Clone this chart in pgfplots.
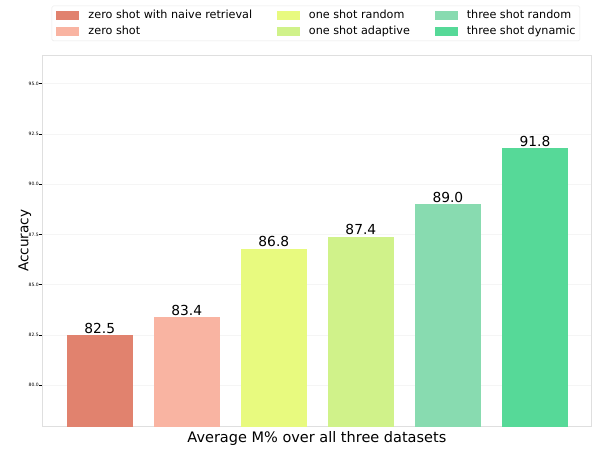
\documentclass[border=0pt]{standalone}
\usepackage{pgfplots}
\pgfplotsset{compat=1.18}
\usepackage{fontspec}
\setmainfont{DejaVu Sans}
\definecolor{cA}{HTML}{E1826E}
\definecolor{cB}{HTML}{F9B4A2}
\definecolor{cC}{HTML}{E8FA7F}
\definecolor{cD}{HTML}{D0F28A}
\definecolor{cE}{HTML}{88DBB0}
\definecolor{cF}{HTML}{56D998}
\pgfplotsset{
  sqleg/.style={legend image code/.code={\fill[##1, sharp corners] (0pt,-4.5pt) rectangle (23pt,4.5pt);}},
}
\begin{document}
\begin{tikzpicture}
\useasboundingbox (0,0) rectangle (592pt,450pt);
\begin{axis}[
  at={(42.3pt,23.3pt)}, anchor=south west,
  scale only axis, width=549.2pt, height=371.7pt,
  xmin=-0.66, xmax=5.65, ymin=77.94, ymax=96.43,
  ybar, bar width=0.76, bar shift=0pt,
  xtick=\empty,
  ytick={80,82.5,85,87.5,90,92.5,95},
  ytick pos=left,
  /pgf/number format/assume math mode=true,
  yticklabel style={font=\fontsize{4.5}{5}\selectfont, inner sep=0.6pt,
    /pgf/number format/fixed, /pgf/number format/fixed zerofill, /pgf/number format/precision=1},
  tick align=outside, major tick length=2.8pt,
  tick style={black, line width=0.6pt},
  axis line style={gray!25, line width=0.8pt},
  ymajorgrids, grid style={gray!8, line width=0.6pt},
  nodes near coords={\pgfmathprintnumber[fixed,fixed zerofill,precision=1]{\pgfplotspointmeta}},
  nodes near coords style={font=\fontsize{13.8}{16}\selectfont, anchor=base, inner sep=0pt, yshift=1.7pt, text=black},
  xlabel={Average M\% over all three datasets},
  xlabel style={at={(axis description cs:0.5,-0.043)}, anchor=base, font=\fontsize{14.5}{17}\selectfont, inner sep=0pt},
  ylabel={Accuracy},
  ylabel style={at={(axis description cs:-0.0255,0.5)}, anchor=base, font=\fontsize{13.6}{16}\selectfont, inner sep=0pt},
  legend columns=3, legend cell align=left,
  legend style={at={(0.0171,1.1326)}, anchor=north west, draw=gray!18, rounded corners=1.5pt,
    inner xsep=4.3pt, inner ysep=3.8pt, row sep=5.8pt,
    font=\fontsize{11.2}{13}\selectfont,
    nodes={inner sep=0pt, text height=8.3pt, text depth=2.5pt},
    /tikz/every odd column/.append style={column sep=9.3pt},
    /tikz/every even column/.append style={column sep=24.5pt}},
]
\addplot[fill=cA, draw=none, sqleg] coordinates {(0,82.5)};
\addlegendentry{zero shot with naive retrieval}
\addplot[fill=cC, draw=none, sqleg] coordinates {(2,86.8)};
\addlegendentry{one shot random}
\addplot[fill=cE, draw=none, sqleg] coordinates {(4,89.0)};
\addlegendentry{three shot random}
\addplot[fill=cB, draw=none, sqleg] coordinates {(1,83.4)};
\addlegendentry{zero shot}
\addplot[fill=cD, draw=none, sqleg] coordinates {(3,87.4)};
\addlegendentry{one shot adaptive}
\addplot[fill=cF, draw=none, sqleg] coordinates {(5,91.8)};
\addlegendentry{three shot dynamic}
\end{axis}
\end{tikzpicture}
\end{document}
